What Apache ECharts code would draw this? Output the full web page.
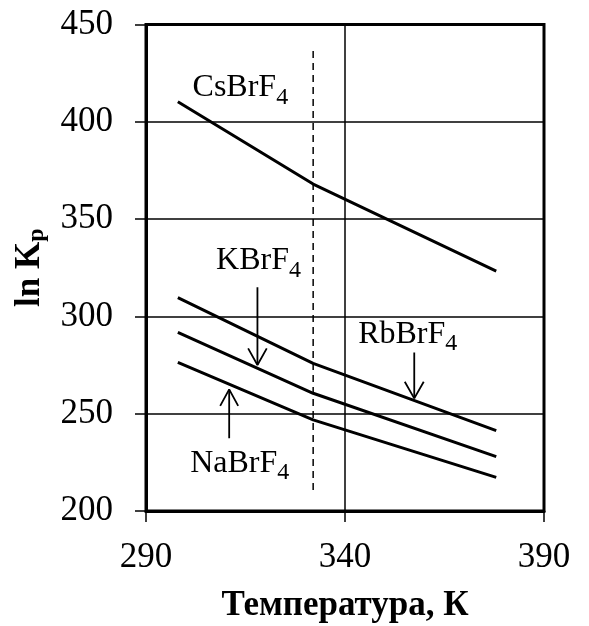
<!DOCTYPE html>
<html><head><meta charset="utf-8">
<script src="https://cdn.jsdelivr.net/npm/echarts@6/dist/echarts.min.js"></script>
<style>html,body{margin:0;padding:0;background:#fff}#c{width:589px;height:626px}</style>
</head><body><div id="c"></div>
<script>
const temps = [298, 332, 378];
const csBrF4 = [410.3, 368, 323.3];
const rbBrF4 = [309.6, 275.9, 241.3];
const kBrF4 = [291.8, 260.5, 227.9];
const naBrF4 = [276.4, 246.8, 217.3];
const dashedX = [332, 332];
const dashedY = [436.4, 209.1];
const xTicks = [290, 340, 390];
const yTicks = [200, 250, 300, 350, 400, 450];
// annotation labels: [T, value, base, subscript]
const labels = [
  [301.7, 417.5, 'CsBrF', '4'],
  [307.6, 328.6, 'KBrF', '4'],
  [343.3, 290.8, 'RbBrF', '4'],
  [301.1, 224.5, 'NaBrF', '4']
];
// arrows: shaft [x, yStart, yTip], wing half-width (K), wing back (value)
const arrows = [
  [318, 315, 275, 2.34, 8.6],
  [357.4, 281.5, 257.9, 2.38, 8.5],
  [310.9, 237.4, 262.5, 2.26, -8.5]
];
const FONT = 'Liberation Serif';
const zip = (xs, ys) => xs.map((x, i) => [x, ys[i]]);
const lineS = (d, w, extra) => Object.assign({
  type: 'line', data: d, symbol: 'none', silent: true, animation: false,
  lineStyle: { color: '#000', width: w }
}, extra || {});
const series = [
  lineS(zip(temps, csBrF4), 3),
  lineS(zip(temps, rbBrF4), 3),
  lineS(zip(temps, kBrF4), 3),
  lineS(zip(temps, naBrF4), 3),
  lineS(zip(dashedX, dashedY), 1.5, { lineStyle: { color: '#000', width: 1.5, type: [7, 5] } })
];
arrows.forEach(a => {
  const [x, y0, tip, hw, back] = a;
  const dir = tip < y0 ? 1 : -1;
  series.push(lineS([[x, y0], [x, tip]], 1.8));
  const b = tip + Math.abs(back) * dir;
  series.push(lineS([[x - hw, b], [x, tip], [x + hw, b]], 1.8));
});
series.push({
  type: 'scatter', symbolSize: 0, silent: true, animation: false,
  itemStyle: { opacity: 1, color: '#000' },
  data: labels.map(l => ({ value: [l[0], l[1]], name: l[2], sub: l[3] })),
  label: {
    show: true, position: [0, 0], align: 'left', verticalAlign: 'middle', color: '#000', opacity: 1,
    formatter: p => '{m|' + p.data.name + '}{s|' + p.data.sub + '}',
    rich: {
      m: { fontFamily: FONT, fontSize: 32, color: '#000' },
      s: { fontFamily: FONT, fontSize: 24, color: '#000', padding: [19, 0, 0, 0] }
    }
  }
});
const chart = echarts.init(document.getElementById('c'), null, { renderer: 'canvas' });
chart.setOption({
  backgroundColor: '#fff',
  animation: false,
  grid: { left: 146, right: 45, top: 24.5, bottom: 115, show: true, borderColor: '#000', borderWidth: 3,
          containLabel: false, outerBoundsMode: 'none' },
  xAxis: {
    type: 'value', min: xTicks[0], max: xTicks[xTicks.length - 1], interval: 50,
    name: 'Температура, К', nameLocation: 'middle', nameGap: 77,
    nameTextStyle: { fontFamily: FONT, fontSize: 35, fontWeight: 'bold', color: '#000' },
    axisLine: { show: true, lineStyle: { color: '#000', width: 3 } },
    axisTick: { show: true, inside: false, length: 11, lineStyle: { color: '#000', width: 1.5 } },
    axisLabel: { fontFamily: FONT, fontSize: 35, color: '#000', margin: 29 },
    splitLine: { show: true, lineStyle: { color: '#000', width: 1.5 } }
  },
  yAxis: {
    type: 'value', min: yTicks[0], max: yTicks[yTicks.length - 1], interval: 50,
    name: '{m|ln K}{s|p}', nameLocation: 'middle', nameGap: 97,
    nameTextStyle: { rich: {
      m: { fontFamily: FONT, fontSize: 35, fontWeight: 'bold', color: '#000' },
      s: { fontFamily: FONT, fontSize: 24, fontWeight: 'bold', color: '#000', padding: [14, 0, 0, 0] }
    } },
    axisLine: { show: true, lineStyle: { color: '#000', width: 3 } },
    axisTick: { show: true, inside: false, length: 11, lineStyle: { color: '#000', width: 1.5 } },
    axisLabel: { fontFamily: FONT, fontSize: 35, color: '#000', margin: 33 },
    splitLine: { show: true, lineStyle: { color: '#000', width: 1.5 } }
  },
  series: series
});
</script></body></html>
